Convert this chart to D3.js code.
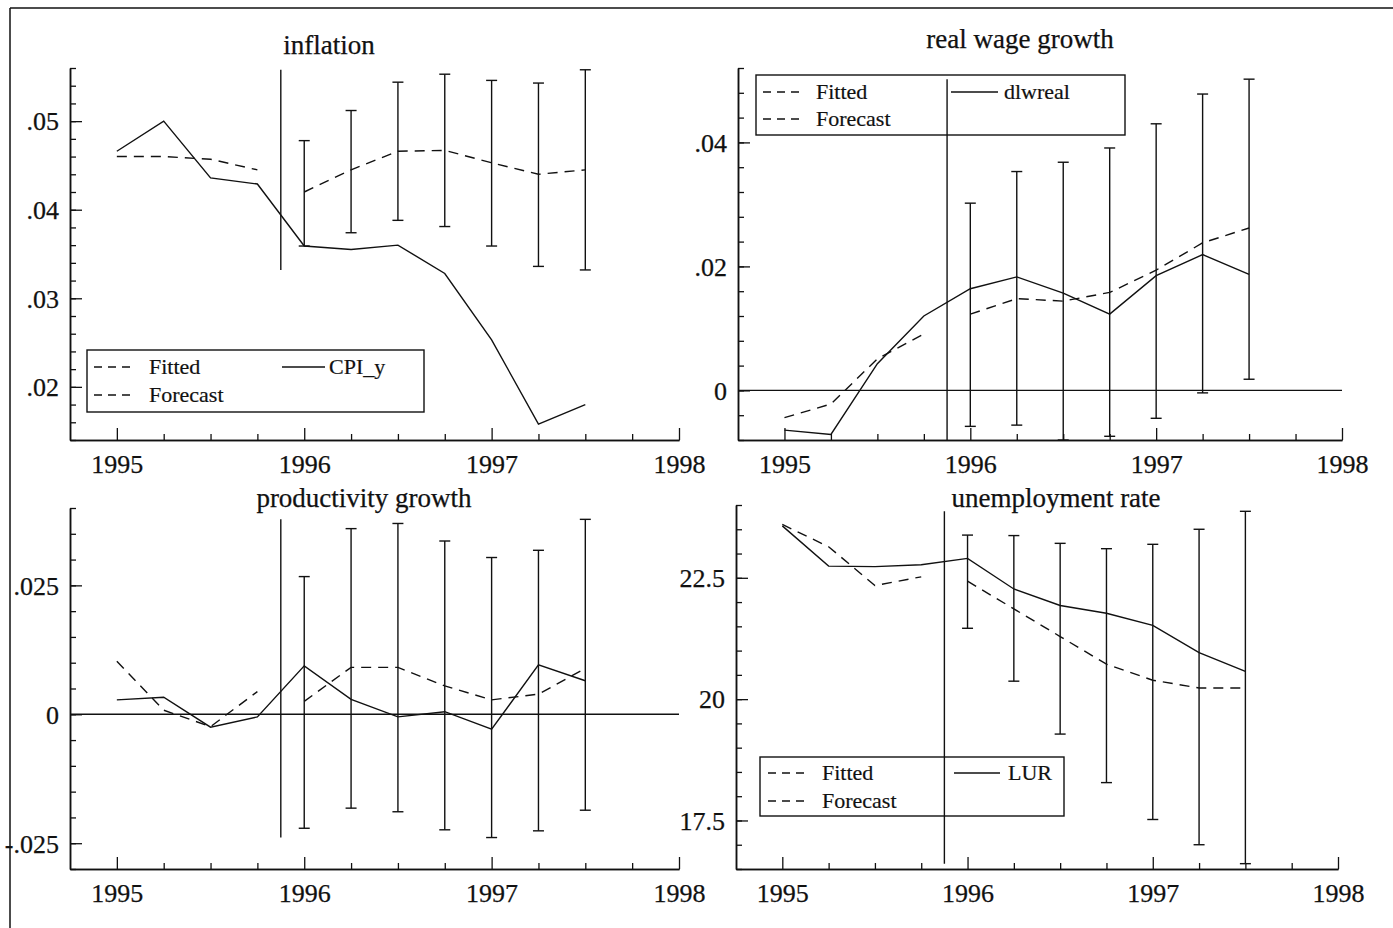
<!DOCTYPE html>
<html><head><meta charset="utf-8">
<script src="https://cdn.jsdelivr.net/npm/d3@7"></script>
<style>body{margin:0;background:#fff}svg{display:block}</style>
</head><body><svg id="c" width="1393" height="928"></svg>
<script>
// ---------- data ----------
const quarters     = [1995.0,1995.25,1995.5,1995.75,1996.0,1996.25,1996.5,1996.75,1997.0,1997.25,1997.5];
const fitQuarters  = [1995.0,1995.25,1995.5,1995.75];
const fcQuarters   = [1996.0,1996.25,1996.5,1996.75,1997.0,1997.25,1997.5];
const forecastStart = 1995.875;
const yearTicks    = [1995,1996,1997,1998];
const yearLabels   = ["1995","1996","1997","1998"];
const quarterTicks = [1995.25,1995.5,1995.75,1996.25,1996.5,1996.75,1997.25,1997.5,1997.75];
const titles       = ["inflation","real wage growth","productivity growth","unemployment rate"];
const legendLabels = ["Fitted","Forecast"];
const actualNames  = ["CPI_y","dlwreal","","LUR"];

// inflation
const inflActual   = [0.0466,0.0500,0.0436,0.0429,0.0359,0.0355,0.0360,0.0328,0.0253,0.0158,0.0180];
const inflFitted   = [0.0460,0.0460,0.0457,0.0445];
const inflForecast = [0.0420,0.0445,0.0466,0.0467,0.0453,0.0440,0.0445];
const inflUpper    = [0.0478,0.0512,0.0544,0.0553,0.0546,0.0543,0.0558];
const inflLower    = [0.0359,0.0374,0.0388,0.0381,0.0359,0.0336,0.0332];
const inflTicks    = [0.02,0.03,0.04,0.05];
const inflTickLabels = [".02",".03",".04",".05"];

// real wage growth
const wageActual   = [-0.0064,-0.0071,0.0043,0.0120,0.0164,0.0183,0.0157,0.0123,0.0185,0.0219,0.0187];
const wageFitted   = [-0.0044,-0.0022,0.0051,0.0091];
const wageForecast = [0.0123,0.0148,0.0144,0.0158,0.0194,0.0238,0.0262];
const wageUpper    = [0.0302,0.0353,0.0368,0.0391,0.0430,0.0478,0.0502];
const wageLower    = [-0.0058,-0.0056,-0.0080,-0.0074,-0.0045,-0.0004,0.0018];
const wageTicks    = [0,0.02,0.04];
const wageTickLabels = ["0",".02",".04"];

// productivity growth
const prodActual   = [0.0028,0.0033,-0.0025,-0.0005,0.0094,0.0029,-0.0005,0.0005,-0.0029,0.0096,0.0065];
const prodFitted   = [0.0103,0.0008,-0.0024,0.0044];
const prodForecast = [0.0025,0.0091,0.0091,0.0055,0.0028,0.0039,0.0089];
const prodUpper    = [0.0267,0.0360,0.0370,0.0336,0.0304,0.0318,0.0378];
const prodLower    = [-0.0221,-0.0182,-0.0189,-0.0224,-0.0239,-0.0226,-0.0186];
const prodTicks    = [-0.025,0,0.025];
const prodTickLabels = ["-.025","0",".025"];

// unemployment rate
const urActual     = [23.57,22.74,22.73,22.77,22.90,22.27,21.93,21.77,21.52,20.96,20.57];
const urFitted     = [23.60,23.14,22.34,22.52];
const urForecast   = [22.43,21.86,21.29,20.72,20.39,20.23,20.23];
const urUpper      = [23.38,23.37,23.21,23.10,23.19,23.50,23.87];
const urLower      = [21.46,20.37,19.28,18.28,17.52,17.00,16.61];
const urTicks      = [17.5,20,22.5];
const urTickLabels = ["17.5","20","22.5"];

// ---------- layout ----------
const panels = [
  {title:titles[0], name:actualNames[0], actual:inflActual, fitted:inflFitted, forecast:inflForecast, upper:inflUpper, lower:inflLower,
   ticks:inflTicks, tickLabels:inflTickLabels, yDomain:[0.014,0.056], minorStep:0.002, zero:false,
   xr:[70,679], yr:[440,68], titlePos:[329,54],
   legend:{x0:87,y0:350,x1:424,y1:412,rows:[367,395],dash:[94,136],dashText:149,solid:[282,325],solidText:329}},
  {title:titles[1], name:actualNames[1], actual:wageActual, fitted:wageFitted, forecast:wageForecast, upper:wageUpper, lower:wageLower,
   ticks:wageTicks, tickLabels:wageTickLabels, yDomain:[-0.008,0.052], minorStep:0.004, zero:true,
   xr:[738,1342], yr:[440,68], titlePos:[1020,48],
   legend:{x0:756,y0:75,x1:1125,y1:135,rows:[92,119],dash:[763,805],dashText:816,solid:[951,998],solidText:1004}},
  {title:titles[2], name:actualNames[2], actual:prodActual, fitted:prodFitted, forecast:prodForecast, upper:prodUpper, lower:prodLower,
   ticks:prodTicks, tickLabels:prodTickLabels, yDomain:[-0.03,0.04], minorStep:0.005, zero:true,
   xr:[70,679], yr:[869,508], titlePos:[364,507], legend:null},
  {title:titles[3], name:actualNames[3], actual:urActual, fitted:urFitted, forecast:urForecast, upper:urUpper, lower:urLower,
   ticks:urTicks, tickLabels:urTickLabels, yDomain:[16.5,24], minorStep:0.5, zero:false,
   xr:[736,1338], yr:[869,505], titlePos:[1056,507],
   legend:{x0:760,y0:757,x1:1064,y1:816,rows:[773,801],dash:[768,810],dashText:822,solid:[954,1000],solidText:1008}}
];

const FONT = "'Liberation Serif','Times New Roman',serif";
const INK = "#111";
const SW = 1.4;
const svg = d3.select("#c");
svg.append("rect").attr("width",1393).attr("height",928).attr("fill","#fff");

// outer frame (top + left)
svg.append("line").attr("x1",10).attr("y1",8).attr("x2",1393).attr("y2",8).attr("stroke",INK).attr("stroke-width",1.5);
svg.append("line").attr("x1",10).attr("y1",8).attr("x2",10).attr("y2",928).attr("stroke",INK).attr("stroke-width",1.5);

function styleAxis(sel){
  sel.selectAll("path").attr("stroke",INK).attr("stroke-width",1.5);
  sel.selectAll("line").attr("stroke",INK).attr("stroke-width",1.3);
  sel.selectAll("text").attr("font-family",FONT).attr("font-size",26).attr("fill",INK)
     .attr("stroke",INK).attr("stroke-width",0.25);
}

panels.forEach(p => {
  const x = d3.scaleLinear().domain([1994.75,1998]).range(p.xr);
  const y = d3.scaleLinear().domain(p.yDomain).range(p.yr);
  const g = svg.append("g");

  // title
  g.append("text").attr("x",p.titlePos[0]).attr("y",p.titlePos[1]).attr("text-anchor","middle")
    .attr("font-family",FONT).attr("font-size",27).attr("fill",INK)
    .attr("stroke",INK).attr("stroke-width",0.25).text(p.title);

  // x axis: quarter ticks (minor) and year ticks (major, labelled), drawn inward
  const xMinor = g.append("g").attr("transform",`translate(0,${p.yr[0]})`)
    .call(d3.axisBottom(x).tickValues(quarterTicks).tickSize(-6).tickSizeOuter(0).tickFormat(""));
  const xMajor = g.append("g").attr("transform",`translate(0,${p.yr[0]})`)
    .call(d3.axisBottom(x).tickValues(yearTicks).tickSize(-12).tickSizeOuter(0).tickPadding(15)
      .tickFormat((d,i)=>yearLabels[i]));
  styleAxis(xMinor); styleAxis(xMajor);

  // y axis: minor + major ticks, inward
  const minor = d3.range(Math.round(p.yDomain[0]/p.minorStep), Math.round(p.yDomain[1]/p.minorStep)+1)
                  .map(k => +(k*p.minorStep).toFixed(6));
  const yMinor = g.append("g").attr("transform",`translate(${p.xr[0]},0)`)
    .call(d3.axisLeft(y).tickValues(minor).tickSize(-6).tickSizeOuter(0).tickFormat(""));
  const yMajor = g.append("g").attr("transform",`translate(${p.xr[0]},0)`)
    .call(d3.axisLeft(y).tickValues(p.ticks).tickSize(-12).tickSizeOuter(0).tickPadding(11)
      .tickFormat((d,i)=>p.tickLabels[i]));
  styleAxis(yMinor); styleAxis(yMajor);
  yMajor.selectAll("text").attr("dy","0.34em");

  // zero line
  if (p.zero) {
    g.append("line").attr("x1",p.xr[0]).attr("x2",p.xr[1]).attr("y1",y(0)).attr("y2",y(0))
      .attr("stroke",INK).attr("stroke-width",SW);
  }

  // legend
  if (p.legend) {
    const L = p.legend;
    g.append("rect").attr("x",L.x0).attr("y",L.y0).attr("width",L.x1-L.x0).attr("height",L.y1-L.y0)
      .attr("fill","none").attr("stroke",INK).attr("stroke-width",SW);
    legendLabels.forEach((lab,i) => {
      g.append("line").attr("x1",L.dash[0]).attr("x2",L.dash[1]).attr("y1",L.rows[i]).attr("y2",L.rows[i])
        .attr("stroke",INK).attr("stroke-width",SW).attr("stroke-dasharray","8,6");
      g.append("text").attr("x",L.dashText).attr("y",L.rows[i]).attr("dy","0.33em")
        .attr("font-family",FONT).attr("font-size",22).attr("fill",INK)
        .attr("stroke",INK).attr("stroke-width",0.2).text(lab);
    });
    g.append("line").attr("x1",L.solid[0]).attr("x2",L.solid[1]).attr("y1",L.rows[0]).attr("y2",L.rows[0])
      .attr("stroke",INK).attr("stroke-width",SW);
    g.append("text").attr("x",L.solidText).attr("y",L.rows[0]).attr("dy","0.33em")
      .attr("font-family",FONT).attr("font-size",22).attr("fill",INK)
      .attr("stroke",INK).attr("stroke-width",0.2).text(p.name);
  }

  // forecast start line spanning error band range
  const lo = Math.max(d3.min(p.lower), p.yDomain[0]);
  const hi = Math.min(d3.max(p.upper), p.yDomain[1]);
  g.append("line").attr("x1",x(forecastStart)).attr("x2",x(forecastStart)).attr("y1",y(hi)).attr("y2",y(lo))
    .attr("stroke",INK).attr("stroke-width",SW);

  // error bars
  const eb = g.append("g").attr("stroke",INK).attr("stroke-width",SW);
  fcQuarters.forEach((q,i) => {
    const cx = x(q), yt = y(p.upper[i]), yb = y(p.lower[i]);
    eb.append("line").attr("x1",cx).attr("x2",cx).attr("y1",yt).attr("y2",yb);
    eb.append("line").attr("x1",cx-5.5).attr("x2",cx+5.5).attr("y1",yt).attr("y2",yt);
    eb.append("line").attr("x1",cx-5.5).attr("x2",cx+5.5).attr("y1",yb).attr("y2",yb);
  });

  const line = d3.line().x(d=>x(d[0])).y(d=>y(d[1]));
  g.append("path").attr("d",line(d3.zip(fitQuarters,p.fitted))).attr("fill","none")
    .attr("stroke",INK).attr("stroke-width",SW).attr("stroke-dasharray","10,7");
  g.append("path").attr("d",line(d3.zip(fcQuarters,p.forecast))).attr("fill","none")
    .attr("stroke",INK).attr("stroke-width",SW).attr("stroke-dasharray","10,7");
  g.append("path").attr("d",line(d3.zip(quarters,p.actual))).attr("fill","none")
    .attr("stroke",INK).attr("stroke-width",SW);
});
</script></body></html>
